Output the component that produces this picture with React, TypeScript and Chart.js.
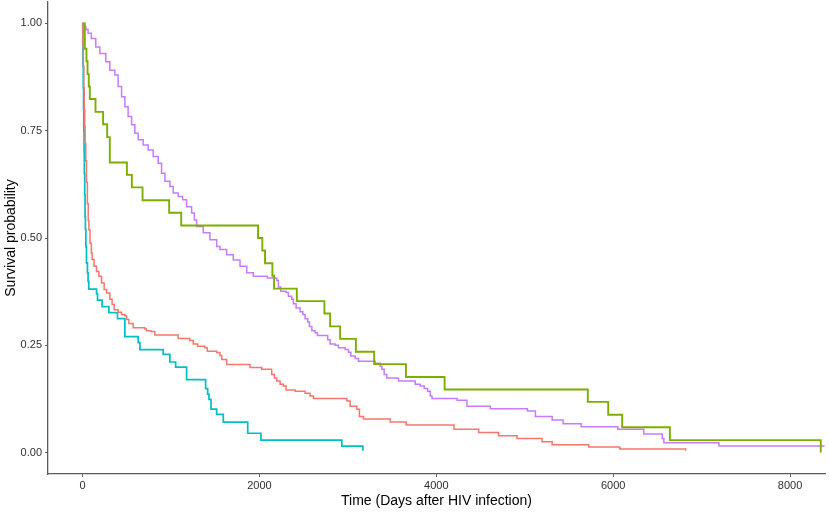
import { useEffect, useRef } from "react";
import Chart from "chart.js/auto";

// axis ticks
const xTicks = [0, 2000, 4000, 6000, 8000];
const yTicks = [0, 0.25, 0.5, 0.75, 1];

// Kaplan-Meier steps: time (days) and survival after the step
const redTime = [
  0, 5, 10, 15, 20, 25, 30, 37, 45, 55, 65, 72, 85, 100, 109, 131, 159, 185, 215, 245, 272, 309, 335,
  358, 403, 441, 479, 498, 524, 573, 705, 724, 773, 818, 1082, 1214, 1252, 1302, 1384, 1411, 1518,
  1555, 1574, 1630, 1894, 2026, 2139, 2170, 2196, 2234, 2271, 2302, 2404, 2517, 2573, 2611, 2989,
  3026, 3102, 3131, 3177, 3479, 3660, 4200, 4479, 4705, 4913, 5196, 5310, 5724, 6075, 6819,
];
const redSurv = [
  1, 0.95, 0.9, 0.85, 0.8, 0.76, 0.72, 0.68, 0.63, 0.58, 0.54, 0.519, 0.488, 0.465, 0.45, 0.434,
  0.422, 0.411, 0.395, 0.38, 0.372, 0.357, 0.345, 0.333, 0.327, 0.322, 0.319, 0.31, 0.301, 0.291,
  0.288, 0.284, 0.282, 0.274, 0.266, 0.261, 0.253, 0.248, 0.244, 0.236, 0.233, 0.226, 0.217, 0.205,
  0.198, 0.194, 0.182, 0.174, 0.167, 0.159, 0.155, 0.146, 0.143, 0.138, 0.132, 0.126, 0.12, 0.108,
  0.101, 0.084, 0.078, 0.071, 0.064, 0.054, 0.047, 0.039, 0.033, 0.025, 0.018, 0.013, 0.008, 0.004,
];

const greenTime = [
  0, 26, 45, 57, 71, 83, 147, 233, 279, 309, 502, 558, 679, 980, 1116, 1985, 2033, 2064, 2147, 2166,
  2423, 2735, 2800, 2913, 3091, 3298, 3657, 4094, 5713, 5944, 6102, 6641, 8347,
];
const greenSurv = [
  1, 0.941, 0.912, 0.882, 0.853, 0.824, 0.794, 0.765, 0.735, 0.676, 0.647, 0.618, 0.588, 0.559,
  0.529, 0.5, 0.471, 0.441, 0.412, 0.382, 0.353, 0.324, 0.294, 0.265, 0.235, 0.206, 0.176, 0.147,
  0.118, 0.088, 0.059, 0.029, 0,
];

const tealTime = [
  0, 3, 6, 9, 12, 15, 18, 21, 25, 29, 33, 38, 45, 56, 63, 71, 159, 170, 222, 298, 396, 479, 630, 649,
  912, 988, 1053, 1177, 1392, 1415, 1430, 1453, 1517, 1592, 1868, 2018, 2932, 3170,
];
const tealSurv = [
  1, 0.95, 0.9, 0.85, 0.8, 0.75, 0.7, 0.65, 0.6, 0.55, 0.52, 0.48, 0.442, 0.419, 0.399, 0.381, 0.37,
  0.355, 0.34, 0.326, 0.312, 0.27, 0.256, 0.24, 0.229, 0.211, 0.199, 0.17, 0.149, 0.136, 0.124,
  0.101, 0.089, 0.071, 0.045, 0.029, 0.015, 0.004,
];

const purpleTime = [
  0, 15, 37, 63, 100, 150, 196, 264, 309, 366, 403, 442, 479, 516, 555, 592, 630, 686, 743, 799, 856,
  894, 932, 988, 1026, 1082, 1132, 1177, 1234, 1265, 1290, 1365, 1441, 1517, 1554, 1630, 1705, 1781,
  1857, 1931, 2090, 2196, 2215, 2241, 2302, 2328, 2366, 2384, 2415, 2460, 2491, 2517, 2547, 2566,
  2593, 2630, 2656, 2773, 2800, 2856, 2894, 2970, 3007, 3034, 3083, 3120, 3309, 3366, 3385, 3411,
  3441, 3547, 3573, 3762, 3819, 3864, 3902, 3932, 3951, 4235, 4347, 4611, 5030, 5121, 5310, 5434,
  5638, 6052, 6347, 6555, 6573, 7196, 8390,
];
const purpleSurv = [
  1, 0.993, 0.986, 0.977, 0.965, 0.945, 0.93, 0.911, 0.891, 0.88, 0.853, 0.829, 0.806, 0.783, 0.764,
  0.744, 0.729, 0.717, 0.705, 0.69, 0.674, 0.651, 0.632, 0.62, 0.605, 0.597, 0.589, 0.573, 0.558,
  0.542, 0.527, 0.512, 0.496, 0.48, 0.473, 0.461, 0.449, 0.434, 0.419, 0.411, 0.407, 0.401, 0.386,
  0.376, 0.373, 0.364, 0.357, 0.347, 0.337, 0.328, 0.322, 0.312, 0.304, 0.294, 0.284, 0.279, 0.273,
  0.263, 0.253, 0.25, 0.244, 0.24, 0.234, 0.225, 0.219, 0.213, 0.208, 0.201, 0.194, 0.182, 0.174,
  0.173, 0.167, 0.159, 0.155, 0.149, 0.143, 0.132, 0.126, 0.122, 0.108, 0.102, 0.097, 0.084, 0.076,
  0.067, 0.06, 0.054, 0.043, 0.033, 0.023, 0.015, 0.015,
];

const toPoints = (t: number[], s: number[]) => t.map((x, i) => ({ x, y: s[i] }));

const FONT = "'Liberation Sans', Arial, sans-serif";

export default function App() {
  const canvasRef = useRef<HTMLCanvasElement | null>(null);

  useEffect(() => {
    if (!canvasRef.current) return;
    const ctx = canvasRef.current.getContext("2d");
    if (!ctx) return;

    const line = (label: string, t: number[], s: number[], color: string, width: number) => ({
      label,
      data: toPoints(t, s),
      borderColor: color,
      borderWidth: width,
      pointRadius: 0,
      stepped: true as const,
      fill: false,
    });

    const chart = new Chart(ctx, {
      type: "line",
      data: {
        datasets: [
          line("Group 1", redTime, redSurv, "#F8766D", 1.5),
          line("Group 2", greenTime, greenSurv, "#7CAE00", 1.9),
          line("Group 3", tealTime, tealSurv, "#00BFC4", 1.7),
          line("Group 4", purpleTime, purpleSurv, "#C77CFF", 1.5),
        ],
      },
      options: {
        animation: false,
        responsive: true,
        maintainAspectRatio: false,
        layout: { padding: { top: 2, right: 4, left: 0, bottom: 0 } },
        plugins: { legend: { display: false }, tooltip: { enabled: false } },
        scales: {
          x: {
            type: "linear",
            min: -390,
            max: 8395,
            afterBuildTicks: (scale) => {
              scale.ticks = xTicks.map((value) => ({ value }));
            },
            afterFit: (scale) => {
              scale.height = 40;
              scale.paddingLeft = 0;
              scale.paddingRight = 0;
            },
            grid: { drawOnChartArea: false, drawTicks: true, tickLength: 3, color: "#5a5a5a", lineWidth: 1 },
            border: { display: true, color: "#5a5a5a", width: 1.3 },
            ticks: {
              color: "#303030",
              font: { family: FONT, size: 11 },
              padding: 2,
              maxRotation: 0,
              callback: (v) => String(v),
            },
            title: {
              display: true,
              text: "Time (Days after HIV infection)",
              color: "#000",
              font: { family: FONT, size: 14 },
              padding: { top: 0, bottom: 4 },
            },
          },
          y: {
            min: -0.05,
            max: 1.05,
            afterBuildTicks: (scale) => {
              scale.ticks = yTicks.map((value) => ({ value }));
            },
            afterFit: (scale) => {
              scale.width = 48;
              scale.paddingTop = 0;
              scale.paddingBottom = 0;
            },
            grid: { drawOnChartArea: false, drawTicks: true, tickLength: 3, color: "#5a5a5a", lineWidth: 1 },
            border: { display: true, color: "#5a5a5a", width: 1.3 },
            ticks: {
              color: "#303030",
              font: { family: FONT, size: 11 },
              padding: 3,
              callback: (v) => Number(v).toFixed(2),
            },
            title: {
              display: true,
              text: "Survival probability",
              color: "#000",
              font: { family: FONT, size: 14 },
              padding: { top: 3, bottom: 0 },
            },
          },
        },
      },
    });
    return () => chart.destroy();
  }, []);

  return (
    <div style={{ position: "absolute", left: 0, top: 0, width: 829, height: 514, background: "#fff" }}>
      <canvas ref={canvasRef} />
    </div>
  );
}
